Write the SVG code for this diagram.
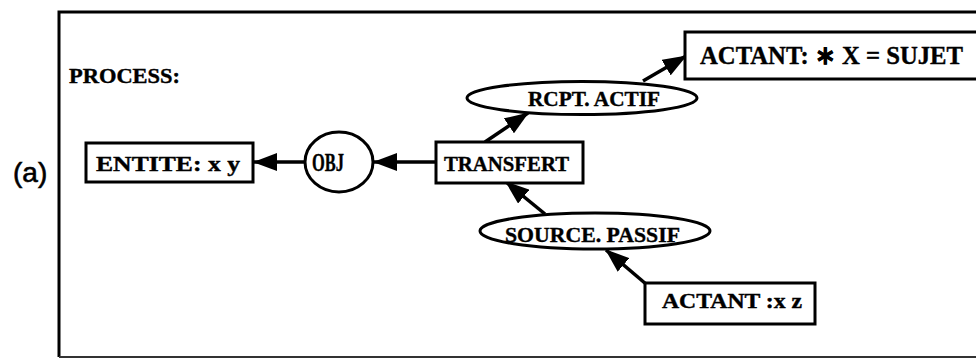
<svg xmlns="http://www.w3.org/2000/svg" width="976" height="359" viewBox="0 0 976 359">
<style>
.t{font-family:"Liberation Serif","Times New Roman",serif;font-weight:bold;fill:#000;stroke:#000;stroke-width:0.4}
.box{fill:#fff;stroke:#000;stroke-width:3}
.con{stroke:#000;stroke-width:3.5;fill:none}
</style>
<defs>
<marker id="ah" markerUnits="userSpaceOnUse" markerWidth="24" markerHeight="18" viewBox="0 0 24 18" refX="23" refY="9" orient="auto">
<path d="M0,0 L24,9 L0,18 Z" fill="#000"/>
</marker>
</defs>
<rect width="976" height="359" fill="#fff"/>
<g id="frame">
<path d="M980 12 H59 V357" fill="none" stroke="#000" stroke-width="3"/>
<path d="M59 357 H980" fill="none" stroke="#333" stroke-width="2"/>
</g>
<text x="13" y="182" font-family="Liberation Sans, Arial, sans-serif" font-size="28" fill="#000" stroke="#000" stroke-width="0.6">(a)</text>
<text class="t" x="69" y="83" font-size="21" textLength="111" lengthAdjust="spacingAndGlyphs">PROCESS:</text>
<g id="connectors">
<line class="con" x1="436" y1="162" x2="374" y2="162" marker-end="url(#ah)"/>
<line class="con" x1="306" y1="162" x2="254" y2="162" marker-end="url(#ah)"/>
<line class="con" x1="485" y1="142" x2="528" y2="113" marker-end="url(#ah)"/>
<line class="con" x1="643" y1="81" x2="686" y2="56" marker-end="url(#ah)"/>
<line class="con" x1="545" y1="214" x2="506" y2="182" marker-end="url(#ah)"/>
<line class="con" x1="646" y1="284" x2="606" y2="250" marker-end="url(#ah)"/>
</g>
<g id="entite">
<rect class="box" x="86" y="143" width="167" height="39"/>
<text class="t" x="96" y="171" font-size="22" textLength="144" lengthAdjust="spacingAndGlyphs">ENTITE: x y</text>
</g>
<g id="obj">
<ellipse class="box" cx="339" cy="162" rx="34" ry="30"/>
<text class="t" x="312" y="171" font-size="25" textLength="32" lengthAdjust="spacingAndGlyphs">OBJ</text>
</g>
<g id="transfert">
<rect class="box" x="436" y="142" width="147" height="41"/>
<text class="t" x="444" y="171" font-size="22" textLength="125" lengthAdjust="spacingAndGlyphs">TRANSFERT</text>
</g>
<g id="rcpt">
<ellipse class="box" cx="582" cy="98" rx="115" ry="16.5"/>
<text class="t" x="528" y="106" font-size="22" textLength="132" lengthAdjust="spacingAndGlyphs">RCPT. ACTIF</text>
</g>
<g id="actant-x">
<rect class="box" x="685" y="32" width="300" height="47"/>
<text class="t" x="700" y="64" font-size="26" textLength="263" lengthAdjust="spacingAndGlyphs">ACTANT:  ∗   X = SUJET</text>
</g>
<g id="source">
<ellipse class="box" cx="595" cy="231" rx="115" ry="18"/>
<text class="t" x="505" y="242" font-size="22" textLength="175" lengthAdjust="spacingAndGlyphs">SOURCE. PASSIF</text>
</g>
<g id="actant-z">
<rect class="box" x="645" y="283" width="170" height="41"/>
<text class="t" x="662" y="308" font-size="21" textLength="140" lengthAdjust="spacingAndGlyphs">ACTANT :x z</text>
</g>
</svg>
